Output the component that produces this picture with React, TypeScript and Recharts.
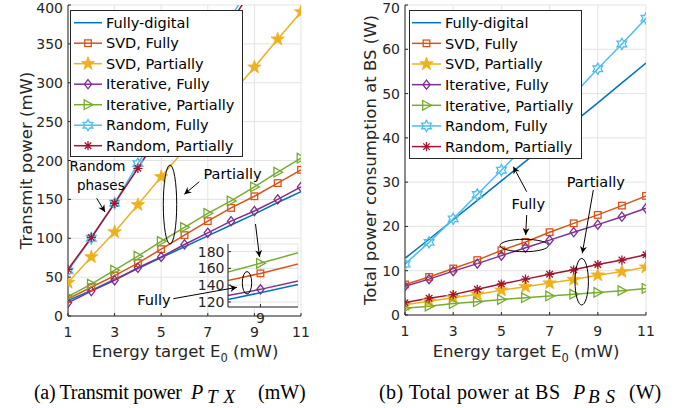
import React from 'react';
import { LineChart, Line, XAxis, YAxis, CartesianGrid } from 'recharts';

const FONT = '"DejaVu Sans", Arial, sans-serif';
const SERIF = '"Liberation Serif", "Times New Roman", serif';
const AXIS = '#262626';
const GRID = '#e3e3e3';

// shared x values (energy target, mW) and tick labels
const energy = [1, 2, 3, 4, 5, 6, 7, 8, 9, 10, 11];
const xTicks = [1, 3, 5, 7, 9, 11];
const txTicks = [0, 50, 100, 150, 200, 250, 300, 350, 400];
const bsTicks = [0, 10, 20, 30, 40, 50, 60, 70];
const insetXTicks = [9];
const insetYTicks = [120, 140, 160, 180];

const seriesNames = [
  'Fully-digital',
  'SVD, Fully',
  'SVD, Partially',
  'Iterative, Fully',
  'Iterative, Partially',
  'Random, Fully',
  'Random, Partially',
];

// (a) transmit power P_TX, mW
const txFullyDigital = [20, 33, 47, 61, 75, 89, 103, 117, 131, 146, 160];
const txSvdFully = [22, 37, 52, 68, 86, 104, 122, 139, 154, 171, 188];
const txSvdPartial = [43, 76, 108, 143, 179, 214, 249, 285, 320, 356, 391];
const txIterFully = [17, 32, 46, 62, 76, 92, 107, 122, 135, 150, 166];
const txIterPartial = [25, 41, 59, 77, 96, 114, 132, 148, 166, 185, 203];
const txRandomFully = [58, 100, 145, 196, 243, 290, 337, 385, 432, 480, 528];
const txRandomPartial = [60, 101, 145, 190, 237, 284, 331, 378, 425, 472, 519];

// (b) total power at BS P_BS, W
const bsFullyDigital = [12.8, 17.1, 21.5, 25.9, 30.3, 34.7, 39.1, 43.5, 47.9, 52.4, 56.9];
const bsSvdFully = [6.9, 8.6, 10.5, 12.4, 14.6, 16.5, 18.7, 20.7, 22.6, 24.7, 26.9];
const bsSvdPartial = [2.3, 3.1, 3.9, 4.7, 5.6, 6.4, 7.2, 8.0, 9.0, 9.8, 10.8];
const bsIterFully = [6.5, 8.1, 9.9, 11.6, 13.4, 15.2, 16.9, 18.7, 20.4, 22.2, 24.1];
const bsIterPartial = [1.5, 2.0, 2.6, 3.0, 3.5, 3.9, 4.3, 4.7, 5.1, 5.5, 6.0];
const bsRandomFully = [11.5, 16.4, 21.7, 27.2, 32.7, 38.3, 44.0, 49.8, 55.6, 61.2, 67.0];
const bsRandomPartial = [2.8, 3.8, 4.6, 5.8, 7.0, 8.1, 9.2, 10.2, 11.4, 12.4, 13.6];

type Shape = 'none' | 'square' | 'star' | 'diamond' | 'triangle' | 'hexagram' | 'asterisk';

const seriesStyle: { key: string; color: string; shape: Shape }[] = [
  { key: 'fd', color: '#0072BD', shape: 'none' },
  { key: 'svdF', color: '#D95319', shape: 'square' },
  { key: 'svdP', color: '#EDB120', shape: 'star' },
  { key: 'itF', color: '#7E2F8E', shape: 'diamond' },
  { key: 'itP', color: '#77AC30', shape: 'triangle' },
  { key: 'rndF', color: '#4DBEEE', shape: 'hexagram' },
  { key: 'rndP', color: '#A2142F', shape: 'asterisk' },
];

type Row = Record<string, number>;

function rowsFrom(cols: number[][]): Row[] {
  return energy.map((e, i) => {
    const r: Row = { e };
    seriesStyle.forEach((s, k) => {
      r[s.key] = cols[k][i];
    });
    return r;
  });
}

const txRows = rowsFrom([txFullyDigital, txSvdFully, txSvdPartial, txIterFully, txIterPartial, txRandomFully, txRandomPartial]);
const bsRows = rowsFrom([bsFullyDigital, bsSvdFully, bsSvdPartial, bsIterFully, bsIterPartial, bsRandomFully, bsRandomPartial]);

function starPoints(x: number, y: number, n: number, ro: number, ri: number) {
  const pts: string[] = [];
  for (let i = 0; i < n * 2; i++) {
    const r = i % 2 === 0 ? ro : ri;
    const a = -Math.PI / 2 + (i * Math.PI) / n;
    pts.push(`${x + r * Math.cos(a)},${y + r * Math.sin(a)}`);
  }
  return pts.join(' ');
}

function Marker({ shape, color, x, y }: { shape: Shape; color: string; x: number; y: number }) {
  const sw = 1.3;
  if (x == null || y == null || isNaN(x) || isNaN(y)) return null;
  switch (shape) {
    case 'square':
      return <rect x={x - 3.3} y={y - 3.3} width={6.6} height={6.6} fill="none" stroke={color} strokeWidth={sw} />;
    case 'diamond':
      return <polygon points={`${x},${y - 4.6} ${x + 3.6},${y} ${x},${y + 4.6} ${x - 3.6},${y}`} fill="none" stroke={color} strokeWidth={sw} />;
    case 'triangle':
      return <polygon points={`${x - 3.8},${y - 4.8} ${x + 5},${y} ${x - 3.8},${y + 4.8}`} fill="none" stroke={color} strokeWidth={sw} />;
    case 'star':
      return <polygon points={starPoints(x, y, 5, 7, 2.8)} fill={color} stroke={color} strokeWidth={0.8} />;
    case 'hexagram':
      return <polygon points={starPoints(x, y, 6, 5.6, 3.2)} fill="none" stroke={color} strokeWidth={sw} />;
    case 'asterisk': {
      const r = 4.6;
      const d = r * 0.7071;
      return (
        <path
          d={`M${x},${y - r}V${y + r}M${x - r},${y}H${x + r}M${x - d},${y - d}L${x + d},${y + d}M${x - d},${y + d}L${x + d},${y - d}`}
          stroke={color}
          strokeWidth={sw}
          fill="none"
        />
      );
    }
    default:
      return null;
  }
}

const dotFor = (shape: Shape, color: string) =>
  shape === 'none'
    ? false
    : (p: any) => <Marker key={`m${p.index}`} shape={shape} color={color} x={p.cx} y={p.cy} />;

const tickText = { fontFamily: FONT, fontSize: 14, fill: AXIS };

const BottomTick = (dy: number) => (p: any) => (
  <g>
    <line x1={p.x} x2={p.x} y1={p.y} y2={p.y - 3} stroke={AXIS} />
    <text x={p.x} y={p.y + dy} textAnchor="middle" style={tickText}>
      {p.payload.value}
    </text>
  </g>
);
const TopTick = (p: any) => <line x1={p.x} x2={p.x} y1={p.y} y2={p.y + 3} stroke={AXIS} />;
// the top label sits at the very edge of the page, keep it just inside
const LeftTick = (dx: number) => (p: any) => (
  <g>
    <line x1={p.x} x2={p.x + 3} y1={p.y} y2={p.y} stroke={AXIS} />
    <text x={p.x + dx} y={Math.max(p.y, 8)} dy="0.36em" textAnchor="end" style={tickText}>
      {p.payload.value}
    </text>
  </g>
);
const RightTick = (p: any) => <line x1={p.x} x2={p.x - 3} y1={p.y} y2={p.y} stroke={AXIS} />;

type PanelProps = {
  rows: Row[];
  keys: string[];
  xDomain: [number, number];
  xTickList: number[];
  yDomain: [number, number];
  yTickList: number[];
  margin: { top: number; right: number; bottom: number; left: number };
  xHeight: number;
  yWidth: number;
  xLabelDy: number;
  yLabelDx: number;
  fill?: string;
};

function Panel(props: PanelProps) {
  const { rows, keys, xDomain, xTickList, yDomain, yTickList, margin, xHeight, yWidth, xLabelDy, yLabelDx, fill } = props;
  const axisLine = { stroke: AXIS, strokeWidth: 1 };
  return (
    <LineChart width={344} height={408} data={rows} margin={margin}>
      <CartesianGrid stroke={GRID} strokeWidth={1} fill={fill ?? 'none'} fillOpacity={1} />
      <XAxis
        dataKey="e"
        type="number"
        domain={xDomain}
        ticks={xTickList}
        allowDataOverflow
        interval={0}
        height={xHeight}
        tickSize={0}
        tickMargin={0}
        tickLine={false}
        axisLine={axisLine}
        tick={BottomTick(xLabelDy)}
      />
      <XAxis
        xAxisId="top"
        dataKey="e"
        orientation="top"
        type="number"
        domain={xDomain}
        ticks={xTickList}
        allowDataOverflow
        interval={0}
        height={0}
        tickSize={0}
        tickMargin={0}
        tickLine={false}
        axisLine={axisLine}
        tick={TopTick}
      />
      <YAxis
        type="number"
        domain={yDomain}
        ticks={yTickList}
        allowDataOverflow
        interval={0}
        width={yWidth}
        tickSize={0}
        tickMargin={0}
        tickLine={false}
        axisLine={axisLine}
        tick={LeftTick(yLabelDx)}
      />
      <YAxis
        yAxisId="right"
        orientation="right"
        type="number"
        domain={yDomain}
        ticks={yTickList}
        allowDataOverflow
        interval={0}
        width={0}
        tickSize={0}
        tickMargin={0}
        tickLine={false}
        axisLine={axisLine}
        tick={RightTick}
      />
      {seriesStyle
        .filter((s) => keys.includes(s.key))
        .map((s) => (
          <Line
            key={s.key}
            dataKey={s.key}
            type="linear"
            stroke={s.color}
            strokeWidth={1.5}
            dot={dotFor(s.shape, s.color)}
            activeDot={false}
            isAnimationActive={false}
          />
        ))}
    </LineChart>
  );
}

function LegendBox({ x, y, w, h, row0, step, l1, l2, tx }: { x: number; y: number; w: number; h: number; row0: number; step: number; l1: number; l2: number; tx: number }) {
  return (
    <g>
      <rect x={x + 0.5} y={y + 0.5} width={w} height={h} fill="#fff" stroke={AXIS} strokeWidth={1} />
      {seriesStyle.map((s, i) => {
        const ry = row0 + i * step;
        return (
          <g key={s.key}>
            <line x1={l1} x2={l2} y1={ry} y2={ry} stroke={s.color} strokeWidth={1.5} />
            <Marker shape={s.shape} color={s.color} x={(l1 + l2) / 2} y={ry} />
            <text x={tx} y={ry} dy="0.36em" style={{ fontFamily: FONT, fontSize: 14.5, fill: '#000' }}>
              {seriesNames[i]}
            </text>
          </g>
        );
      })}
    </g>
  );
}

const noteText = { fontFamily: FONT, fontSize: 14.5, fill: '#000' };

function Arrow({ x1, y1, x2, y2 }: { x1: number; y1: number; x2: number; y2: number }) {
  return <line x1={x1} y1={y1} x2={x2} y2={y2} stroke="#000" strokeWidth={1} markerEnd="url(#head)" />;
}

function Note({ x, y, t, size = 14.5 }: { x: number; y: number; t: string; size?: number }) {
  return (
    <text x={x} y={y} dy="0.36em" textAnchor="middle" style={{ ...noteText, fontSize: size }}>
      {t}
    </text>
  );
}

function XTitle({ cx, y }: { cx: number; y: number }) {
  return (
    <text x={cx} y={y} textAnchor="middle" style={{ fontFamily: FONT, fontSize: 16.5, fill: AXIS }}>
      Energy target E
      <tspan dy={5} fontSize={11.5}>0</tspan>
      <tspan dy={-5}> (mW)</tspan>
    </text>
  );
}

function YTitle({ cx, cy, t }: { cx: number; cy: number; t: string }) {
  return (
    <text
      x={cx}
      y={cy}
      dy="0.36em"
      textAnchor="middle"
      transform={`rotate(-90 ${cx} ${cy})`}
      style={{ fontFamily: FONT, fontSize: 16.5, fill: AXIS }}
    >
      {t}
    </text>
  );
}

const capStyle = { fontFamily: SERIF, fontSize: 20, fill: '#000' };

type CapProps = {
  x0: number; preLen: number; xP: number; xSub: number; xPost: number; y: number;
  pre: string; sub: string; post: string;
};

function Caption({ x0, preLen, xP, xSub, xPost, y, pre, sub, post }: CapProps) {
  return (
    <g>
      <text x={x0} y={y} style={capStyle} textLength={preLen} lengthAdjust="spacing">{pre}</text>
      <text x={xP} y={y} fontStyle="italic" style={capStyle}>P</text>
      <text x={xSub} y={y + 4} fontStyle="italic" style={{ ...capStyle, fontSize: 19 }} letterSpacing={6}>{sub}</text>
      <text x={xPost} y={y} style={capStyle}>{post}</text>
    </g>
  );
}

const allKeys = seriesStyle.map((s) => s.key);

export default function App() {
  return (
    <div style={{ position: 'absolute', left: 0, top: 0, width: 688, height: 408, background: '#fff' }}>
      <div style={{ position: 'absolute', left: 0, top: 0 }}>
        <Panel
          rows={txRows}
          keys={allKeys}
          xDomain={[1, 11]}
          xTickList={xTicks}
          yDomain={[0, 400]}
          yTickList={txTicks}
          margin={{ top: 5, right: 43, bottom: 62, left: 28 }}
          xHeight={30}
          yWidth={40}
          xLabelDy={21}
          yLabelDx={-5}
        />
      </div>
      <div style={{ position: 'absolute', left: 0, top: 0 }}>
        <Panel
          rows={txRows}
          keys={['fd', 'svdF', 'itF', 'itP']}
          xDomain={[8.43, 9.66]}
          xTickList={insetXTicks}
          yDomain={[114, 189]}
          yTickList={insetYTicks}
          margin={{ top: 244, right: 46, bottom: 81, left: 208 }}
          xHeight={20}
          yWidth={20}
          xLabelDy={15.5}
          yLabelDx={-3.5}
          fill="#fff"
        />
      </div>
      <div style={{ position: 'absolute', left: 344, top: 0 }}>
        <Panel
          rows={bsRows}
          keys={allKeys}
          xDomain={[1, 11]}
          xTickList={xTicks}
          yDomain={[0, 70]}
          yTickList={bsTicks}
          margin={{ top: 5, right: 42, bottom: 63, left: 21 }}
          xHeight={30}
          yWidth={40}
          xLabelDy={21}
          yLabelDx={-5}
        />
      </div>
      <svg width={688} height={408} style={{ position: 'absolute', left: 0, top: 0, pointerEvents: 'none' }}>
        <defs>
          <marker id="head" viewBox="0 0 10 10" refX="10" refY="5" markerWidth="8" markerHeight="7" markerUnits="userSpaceOnUse" orient="auto">
            <path d="M0,0 L10,5 L0,10 L3,5 z" fill="#000" />
          </marker>
        </defs>

        <LegendBox x={70} y={10} w={172} h={146} row0={22.7} step={20.5} l1={74} l2={102} tx={106} />
        <LegendBox x={409} y={10} w={172} h={148} row0={22.7} step={20.65} l1={412} l2={441} tx={445} />

        {/* annotations, panel (a) */}
        <Note x={97.5} y={166} t="Random" size={13.5} />
        <Note x={100.8} y={185} t="phases" size={13.5} />
        <Arrow x1={96.7} y1={198.3} x2={105} y2={212} />
        <Note x={232.5} y={173.3} t="Partially" />
        <Arrow x1={199.3} y1={181.7} x2={184.3} y2={194.3} />
        <ellipse cx={170} cy={204.5} rx={6.7} ry={39.5} fill="none" stroke="#000" />
        <Arrow x1={255.5} y1={224} x2={259.5} y2={257} />
        <Note x={154} y={300} t="Fully" />
        <Arrow x1={173.3} y1={298.7} x2={237} y2={287.3} />
        <ellipse cx={247} cy={282.8} rx={4.7} ry={11.2} fill="none" stroke="#000" />

        {/* annotations, panel (b) */}
        <Note x={528.3} y={203.3} t="Fully" />
        <Arrow x1={526.7} y1={191.7} x2={513.3} y2={166.7} />
        <Arrow x1={526.7} y1={215} x2={525.7} y2={235} />
        <ellipse cx={524.2} cy={245.5} rx={24.2} ry={6.2} fill="none" stroke="#000" />
        <Note x={595.8} y={181.7} t="Partially" />
        <Arrow x1={593.3} y1={190} x2={582.3} y2={253.3} />
        <ellipse cx={581.7} cy={281.7} rx={6.7} ry={23.3} fill="none" stroke="#000" />

        <XTitle cx={185} y={357.3} />
        <XTitle cx={526} y={357.3} />
        <YTitle cx={26} cy={160.5} t="Transmit power (mW)" />
        <YTitle cx={370} cy={160} t="Total power consumption at BS (W)" />

        <Caption x0={34} preLen={148} xP={191} xSub={207} xPost={258} y={399} pre="(a) Transmit power" sub="TX" post="(mW)" />
        <Caption x0={379} preLen={181} xP={573} xSub={588} xPost={629} y={399} pre="(b) Total power at BS" sub="BS" post="(W)" />
      </svg>
    </div>
  );
}
